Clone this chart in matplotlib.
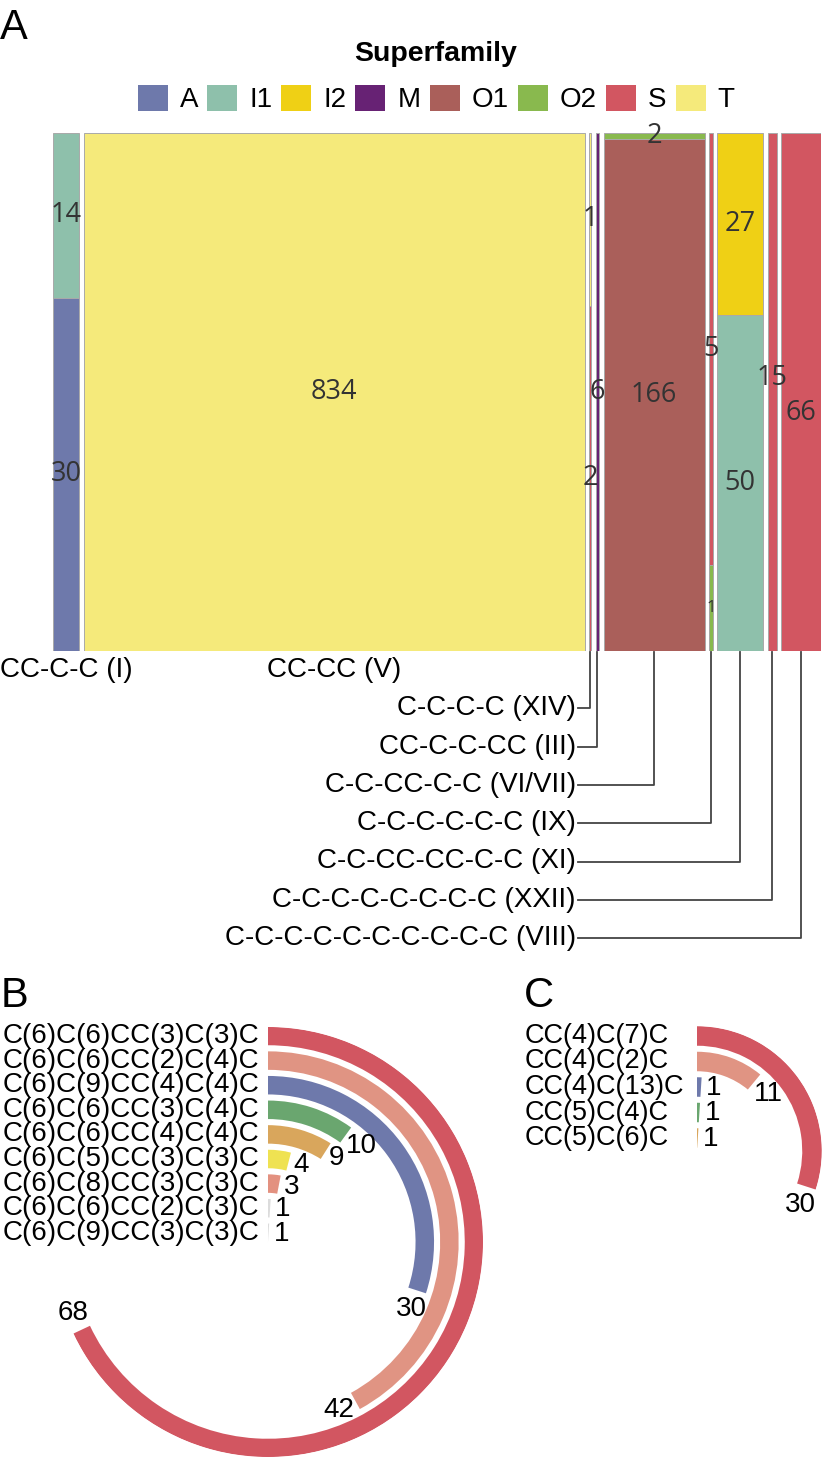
import numpy as np
import matplotlib
matplotlib.use("Agg")
import matplotlib.pyplot as plt
from matplotlib.patches import Patch

plt.rcParams['font.family'] = ['Liberation Sans', 'DejaVu Sans']

# ---- data ----
superfamilies = ["A", "I1", "I2", "M", "O1", "O2", "S", "T"]
sf_colors = ["#6e79ab", "#8ec0ab", "#efd015", "#672274", "#aa5f5a", "#89b94e", "#d25661", "#f5ea7b"]

clades = ["CC-C-C (I)", "CC-CC (V)", "C-C-C-C (XIV)", "CC-C-C-CC (III)", "C-C-CC-C-C (VI/VII)",
          "C-C-C-C-C-C (IX)", "C-C-CC-CC-C-C (XI)", "C-C-C-C-C-C-C-C (XXII)",
          "C-C-C-C-C-C-C-C-C-C (VIII)"]
cnt_A  = [30, 0, 0, 0, 0, 0, 0, 0, 0]
cnt_I1 = [14, 0, 0, 0, 0, 0, 50, 0, 0]
cnt_I2 = [0, 0, 0, 0, 0, 0, 27, 0, 0]
cnt_M  = [0, 0, 0, 6, 0, 0, 0, 0, 0]
cnt_O1 = [0, 0, 0, 0, 166, 0, 0, 0, 0]
cnt_O2 = [0, 0, 0, 0, 2, 1, 0, 0, 0]
cnt_S  = [0, 0, 2, 0, 0, 5, 0, 15, 66]
cnt_T  = [0, 834, 1, 0, 0, 0, 0, 0, 0]

B_labels = ["C(6)C(6)CC(3)C(3)C", "C(6)C(6)CC(2)C(4)C", "C(6)C(9)CC(4)C(4)C",
            "C(6)C(6)CC(3)C(4)C", "C(6)C(6)CC(4)C(4)C", "C(6)C(5)CC(3)C(3)C",
            "C(6)C(8)CC(3)C(3)C", "C(6)C(6)CC(2)C(3)C", "C(6)C(9)CC(3)C(3)C"]
B_values = [68, 42, 30, 10, 9, 4, 3, 1, 1]
B_colors = ["#d25661", "#e09483", "#6e79ab", "#6aa66f", "#d9a65c", "#efe252", "#e39180", "#dcdcdc", "#dcdcdc"]

C_labels = ["CC(4)C(7)C", "CC(4)C(2)C", "CC(4)C(13)C", "CC(5)C(4)C", "CC(5)C(6)C"]
C_values = [30, 11, 1, 1, 1]
C_colors = ["#d25661", "#e09483", "#6e79ab", "#6aa66f", "#d9a65c"]

W, H = 822, 1459
fig = plt.figure(figsize=(W / 100, H / 100), dpi=100)


def px_axes(x0, y0, x1, y1, **kw):
    return fig.add_axes([x0 / W, 1 - y1 / H, (x1 - x0) / W, (y1 - y0) / H], **kw)


# ---- panel A: mosaic ----
counts = [cnt_A, cnt_I1, cnt_I2, cnt_M, cnt_O1, cnt_O2, cnt_S, cnt_T]
totals = np.sum(counts, axis=0)
gap = 7.5
lefts = np.concatenate([[0], np.cumsum(totals + gap)[:-1]])
xmax = lefts[-1] + totals[-1]

axA = px_axes(53, 133, 821, 651)
nudge = {(7, 6): 14, (8, 6): -21}
for j in range(len(clades)):
    bottom = 0.0
    for k, sf in enumerate(superfamilies):
        v = counts[k][j]
        if v == 0:
            continue
        h = v / totals[j]
        axA.bar(lefts[j], h, width=totals[j], bottom=bottom, align="edge",
                color=sf_colors[k], edgecolor="#a9a9a9", linewidth=0.7)
        fs = 12 if (j == 5 and sf == "O2") else 19.5
        axA.annotate(str(v), (lefts[j] + totals[j] / 2, bottom + h / 2),
                     xytext=(0, nudge.get((j, k), 0)), textcoords="offset pixels",
                     ha="center", va="center", fontsize=fs, color="#333333",
                     family=["Open Sans", "DejaVu Sans"])
        bottom += h
axA.set_xlim(0, xmax)
axA.set_ylim(0, 1)
axA.axis("off")

sx = 768 / xmax  # px per unit


def ydat(ypx):
    return (651 - ypx) / 518


rows = [0, 0, 1, 2, 3, 4, 5, 6, 7]
x_txt = (576 - 53) / sx
for j, lab in enumerate(clades):
    y = ydat(670 + 38.3 * rows[j])
    xc = lefts[j] + totals[j] / 2
    if rows[j] == 0:
        axA.text(xc, y, lab, ha="center", va="center", fontsize=20)
    else:
        axA.text(x_txt, y, lab, ha="right", va="center", fontsize=20)
        axA.plot([xc, xc, x_txt + 2 / sx], [ydat(652), y, y], color="#444444",
                 lw=1.3, clip_on=False)

handles = [Patch(facecolor=c, edgecolor="none") for c in sf_colors]
leg = fig.legend(handles, superfamilies, ncol=8, loc="center",
                 bbox_to_anchor=(436 / W, 1 - 77 / H), frameon=False, fontsize=20,
                 handlelength=1.08, handleheight=1.08, handletextpad=0.43,
                 columnspacing=0.33, labelspacing=0.65, title="Superfamily",
                 title_fontproperties={"weight": "bold", "size": 20.5})

fig.text(0 / W, 1 - 39 / H, "A", fontsize=30)
fig.text(1 / W, 1 - 1007 / H, "B", fontsize=30)
fig.text(524 / W, 1 - 1007 / H, "C", fontsize=30)


# ---- panels B and C: radial bars ----
def radial(ax, labels, values, colors, r0, pitch, thick, rmax, label_dx, fs_lab, fs_val):
    ax.set_theta_zero_location("N")
    ax.set_theta_direction(-1)
    for i, (lab, v, c) in enumerate(zip(labels, values, colors)):
        r = r0 - i * pitch
        th = np.deg2rad(v * 3.6)
        ax.bar(0, thick, width=th, bottom=r - thick / 2, align="edge", color=c, edgecolor="none")
        ax.annotate(lab, (0, r), xytext=(label_dx, 0), textcoords="offset pixels",
                    ha="left", va="center", fontsize=fs_lab)
        d = 7 + 6 * len(str(v))
        ax.annotate(str(v), (th, r), xytext=(d * np.cos(th), -d * np.sin(th)),
                    textcoords="offset pixels", ha="center", va="center", fontsize=fs_val)
    ax.set_ylim(0, rmax)
    ax.axis("off")


axB = px_axes(268 - 215, 1242 - 215, 268 + 215, 1242 + 215, projection="polar")
radial(axB, B_labels, B_values, B_colors, 206, 24.6, 18.5, 215, -265, 20, 20)

axC = px_axes(697 - 125, 1151 - 125, 697 + 125, 1151 + 125, projection="polar")
radial(axC, C_labels, C_values, C_colors, 115, 25.5, 19.5, 125, -172, 19.5, 20)

fig.savefig("out.png", dpi=100)
